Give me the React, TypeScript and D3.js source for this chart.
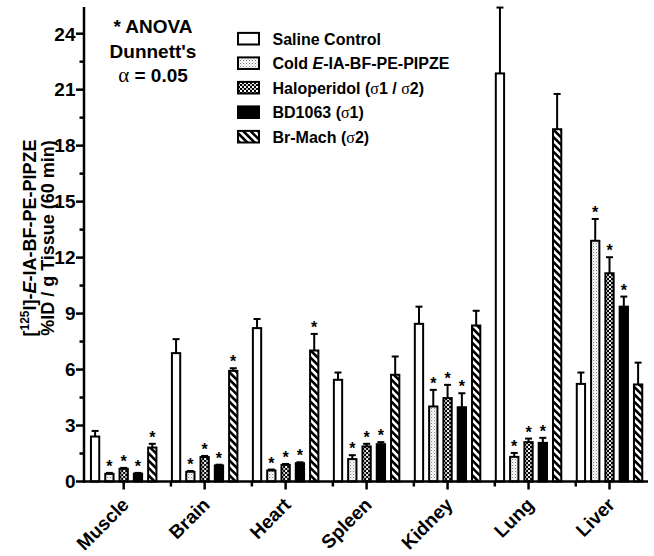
import React from 'react';
import * as d3 from 'd3';

const categories = ['Muscle', 'Brain', 'Heart', 'Spleen', 'Kidney', 'Lung', 'Liver'];
const seriesKeys = ['saline', 'cold', 'halo', 'bd', 'brmach'];

const salineMean = [2.41, 6.88, 8.22, 5.45, 8.45, 21.87, 5.23];
const salineSem = [0.3, 0.75, 0.49, 0.39, 0.92, 3.53, 0.61];
const coldMean = [0.41, 0.52, 0.59, 1.2, 4.02, 1.32, 12.9];
const coldSem = [0.05, 0.04, 0.05, 0.21, 0.89, 0.21, 1.17];
const haloMean = [0.68, 1.31, 0.89, 1.88, 4.47, 2.11, 11.16];
const haloSem = [0.05, 0.06, 0.05, 0.14, 0.71, 0.19, 0.86];
const bdMean = [0.42, 0.86, 0.98, 2.0, 3.98, 2.07, 9.37];
const bdSem = [0.04, 0.04, 0.05, 0.11, 0.75, 0.27, 0.54];
const brMachMean = [1.82, 5.93, 7.02, 5.72, 8.36, 18.88, 5.2];
const brMachSem = [0.2, 0.14, 0.89, 0.98, 0.79, 1.89, 1.17];

const salineSig = [0, 0, 0, 0, 0, 0, 0];
const coldSig = [1, 1, 1, 1, 1, 1, 1];
const haloSig = [1, 1, 1, 1, 1, 1, 1];
const bdSig = [1, 1, 1, 1, 1, 1, 1];
const brMachSig = [1, 1, 1, 0, 0, 0, 0];

const yMajorTicks = [0, 3, 6, 9, 12, 15, 18, 21, 24];
const yMinorTicks = [1.5, 4.5, 7.5, 10.5, 13.5, 16.5, 19.5, 22.5];

const means = [salineMean, coldMean, haloMean, bdMean, brMachMean];
const sems = [salineSem, coldSem, haloSem, bdSem, brMachSem];
const sigs = [salineSig, coldSig, haloSig, bdSig, brMachSig];
const fills = ['#ffffff', 'url(#pDots)', 'url(#pChecker)', '#000000', 'url(#pStripes)'];

const FONT = "'Liberation Sans', Arial, Helvetica, sans-serif";
const SERIF = "'Liberation Serif', 'Times New Roman', serif";

export default function App() {
  const W = 654, H = 556;
  const axisX = 84;
  const y = d3.scaleLinear().domain([0, 25.43]).range([481.5, 7]);
  const x0 = d3.scaleBand<string>().domain(categories).range([83.2, 650]).paddingInner(0).paddingOuter(0);
  const x1 = d3.scaleBand<string>().domain(seriesKeys).range([0, x0.bandwidth()]).paddingInner(0.42).paddingOuter(0.542);
  const bw = x1.bandwidth();
  const base = y(0);

  const legendItems = [
    { fill: fills[0], label: <tspan>Saline Control</tspan> },
    { fill: fills[1], label: <><tspan>Cold </tspan><tspan fontStyle="italic">E</tspan><tspan>-IA-BF-PE-PIPZE</tspan></> },
    { fill: fills[2], label: <><tspan>Haloperidol (</tspan><tspan fontFamily={SERIF} fontWeight="normal">σ</tspan><tspan>1 / </tspan><tspan fontFamily={SERIF} fontWeight="normal">σ</tspan><tspan>2)</tspan></> },
    { fill: fills[3], label: <><tspan>BD1063 (</tspan><tspan fontFamily={SERIF} fontWeight="normal">σ</tspan><tspan>1)</tspan></> },
    { fill: fills[4], label: <><tspan>Br-Mach (</tspan><tspan fontFamily={SERIF} fontWeight="normal">σ</tspan><tspan>2)</tspan></> },
  ];

  return (
    <svg width={W} height={H} style={{ position: 'absolute', left: 0, top: 0, background: '#fff' }} fontFamily={FONT}>
      <defs>
        <pattern id="pDots" width="3" height="3" patternUnits="userSpaceOnUse">
          <rect width="3" height="3" fill="#fff" />
          <rect x="0" y="0" width="1" height="1" fill="#777" />
          <rect x="1.5" y="1.5" width="1" height="1" fill="#aaa" />
        </pattern>
        <pattern id="pChecker" width="4" height="4" patternUnits="userSpaceOnUse">
          <rect width="4" height="4" fill="#fff" />
          <rect x="0" y="0" width="2" height="2" fill="#000" />
          <rect x="2" y="2" width="2" height="2" fill="#000" />
          <rect x="2" y="0" width="2" height="2" fill="#444" opacity="0.3" />
        </pattern>
        <pattern id="pStripes" width="5.2" height="5.2" patternUnits="userSpaceOnUse" patternTransform="rotate(-45)">
          <rect width="5.2" height="5.2" fill="#fff" />
          <rect x="0" y="0" width="2.6" height="5.2" fill="#000" />
        </pattern>
      </defs>
      <rect width={W} height={H} fill="#fff" />

      {/* bars */}
      {categories.map((c, ci) => (
        <g key={c} transform={`translate(${x0(c)},0)`}>
          {seriesKeys.map((s, si) => {
            const v = means[si][ci];
            const e = sems[si][ci];
            const bx = x1(s)!;
            const cx = bx + bw / 2;
            const top = y(v);
            const etop = y(v + e);
            return (
              <g key={s}>
                <line x1={cx} x2={cx} y1={top} y2={etop} stroke="#000" strokeWidth={2} />
                <line x1={cx - 3.5} x2={cx + 3.5} y1={etop} y2={etop} stroke="#000" strokeWidth={2} />
                <rect x={bx} y={top} width={bw} height={base - top} fill={fills[si]} stroke="#000" strokeWidth={2} />
                {sigs[si][ci] ? (
                  <text x={cx} y={etop - 1} textAnchor="middle" fontSize={16} fontWeight="bold">*</text>
                ) : null}
              </g>
            );
          })}
        </g>
      ))}

      {/* y axis */}
      <line x1={axisX} x2={axisX} y1={y(25.43)} y2={base + 1.25} stroke="#000" strokeWidth={2.5} />
      {yMajorTicks.map(t => (
        <g key={t}>
          <line x1={axisX - 8} x2={axisX} y1={y(t)} y2={y(t)} stroke="#000" strokeWidth={2.5} />
          <text x={axisX - 8.5} y={y(t)} dy="0.36em" textAnchor="end" fontSize={19} fontWeight="bold">{t}</text>
        </g>
      ))}
      {yMinorTicks.map(t => (
        <line key={t} x1={axisX - 4.5} x2={axisX} y1={y(t)} y2={y(t)} stroke="#000" strokeWidth={2.5} />
      ))}

      {/* x axis */}
      <line x1={axisX - 1.25} x2={648} y1={base} y2={base} stroke="#000" strokeWidth={2.5} />
      {categories.map((c, ci) => {
        const cx = x0(c)! + x0.bandwidth() / 2;
        const gx = x0(c)! + x1(seriesKeys[0])!;
        return (
          <g key={c}>
            <line x1={cx} x2={cx} y1={base} y2={base + 8} stroke="#000" strokeWidth={2.5} />
            {ci > 0 ? <line x1={gx - 1} x2={gx - 1} y1={base} y2={base + 5} stroke="#000" strokeWidth={2.5} /> : null}
            <text transform={`translate(${cx - 3},${base + 15}) rotate(-45)`} textAnchor="end" fontSize={19} fontWeight="bold" dy="0.7em">{c}</text>
          </g>
        );
      })}

      {/* y axis label */}
      <g transform="translate(35.5,238) rotate(-90)">
        <text textAnchor="middle" fontSize={18} fontWeight="bold" y={0}>
          <tspan>[</tspan><tspan fontSize={12} dy="-7">125</tspan><tspan dy="7">I]-</tspan><tspan fontStyle="italic">E</tspan><tspan>-IA-BF-PE-PIPZE</tspan>
        </text>
        <text textAnchor="middle" fontSize={18} fontWeight="bold" y={18}>%ID / g Tissue (60 min)</text>
      </g>

      {/* annotation */}
      <g fontWeight="bold" fontSize={19} textAnchor="middle">
        <text x={153} y={33}>* ANOVA</text>
        <text x={153} y={57.5}>Dunnett's</text>
        <text x={153} y={81.5}><tspan fontFamily={SERIF} fontWeight="normal" fontSize={21}>α</tspan><tspan> = 0.05</tspan></text>
      </g>

      {/* legend */}
      {legendItems.map((it, i) => {
        const cy = 38.7 + i * 24.5;
        return (
          <g key={i}>
            <rect x={238} y={cy - 5.8} width={21} height={11.6} fill={it.fill} stroke="#000" strokeWidth={2} />
            <text x={272.5} y={cy + 5.8} fontSize={16} fontWeight="bold">{it.label}</text>
          </g>
        );
      })}
    </svg>
  );
}
